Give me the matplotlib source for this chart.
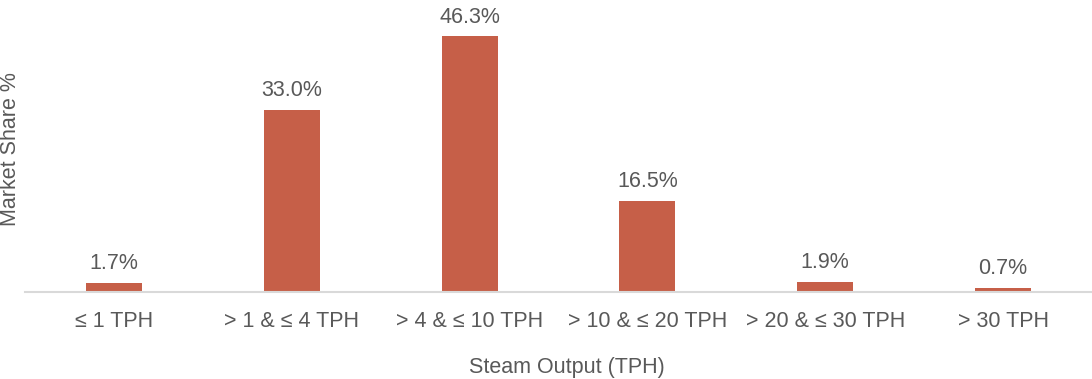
import matplotlib.pyplot as plt

plt.rcParams['font.family'] = ['Liberation Sans', 'DejaVu Sans']

categories = ["≤ 1 TPH", "> 1 & ≤ 4 TPH", "> 4 & ≤ 10 TPH",
              "> 10 & ≤ 20 TPH", "> 20 & ≤ 30 TPH", "> 30 TPH"]
share = [1.7, 33.0, 46.3, 16.5, 1.9, 0.7]

bar_color = "#C65F48"
text_color = "#595959"
fs = 15.5

fig = plt.figure(figsize=(10.92, 3.79), dpi=100)
ax = fig.add_axes([25 / 1092, 87 / 379, 1 - 25 / 1092, 276 / 379])

x = range(len(categories))
bars = ax.bar(x, share, width=0.315, color=bar_color)

for b, v in zip(bars, share):
    ax.text(b.get_x() + b.get_width() / 2, v + 1.6, f"{v:.1f}%",
            ha="center", va="bottom", fontsize=fs, color=text_color)

ax.set_xlim(-0.5, len(categories) - 0.5)
ax.set_ylim(0, 50)
ax.set_xticks(list(x))
ax.set_xticklabels(categories, fontsize=fs, color=text_color)
ax.tick_params(axis="x", length=0, pad=14)
ax.set_yticks([])

for side in ["top", "right", "left"]:
    ax.spines[side].set_visible(False)
ax.spines["bottom"].set_color("#D9D9D9")
ax.spines["bottom"].set_linewidth(1.5)

# axis titles placed in figure coordinates
fig.text(567 / 1092, 1 - 367 / 379, "Steam Output (TPH)", ha="center",
         va="center", fontsize=fs, color=text_color)
fig.text(11 / 1092, 1 - 149 / 379, "Market Share %", rotation=90, ha="center",
         va="center", fontsize=fs, color=text_color)

fig.savefig("out.png", dpi=100)
